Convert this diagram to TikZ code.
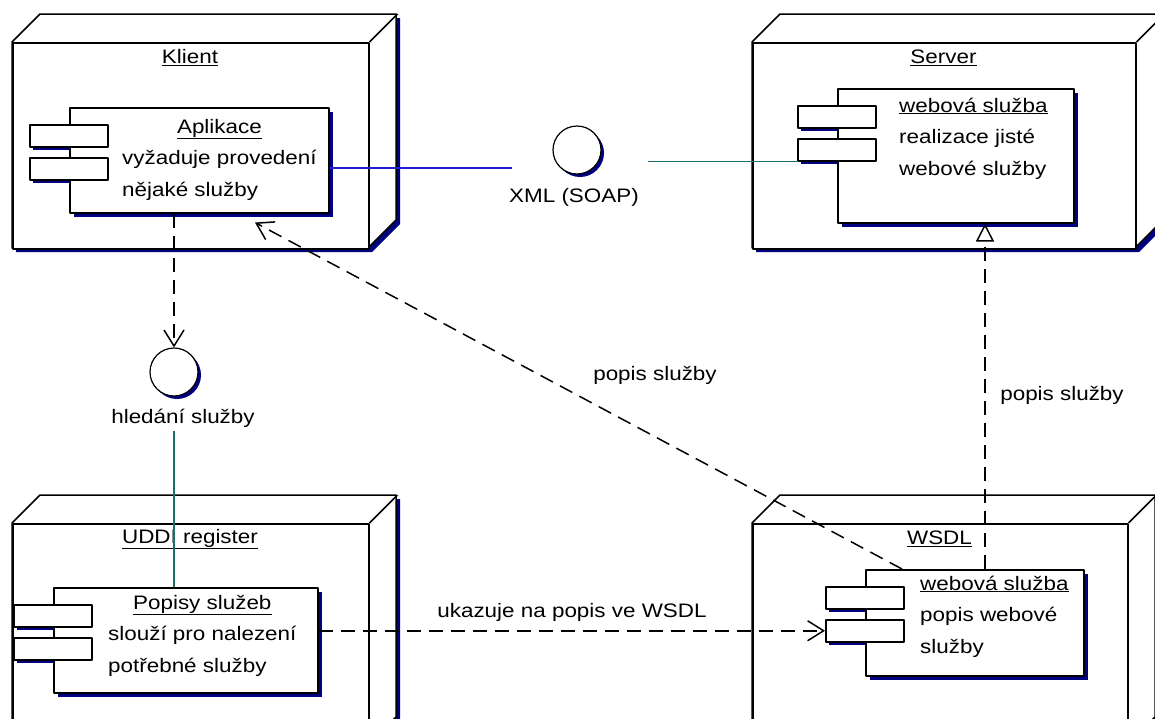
\documentclass[tikz,border=0pt]{standalone}
\usepackage{fontspec}
\setmainfont[FakeStretch=1.15]{Liberation Sans}
\usetikzlibrary{arrows.meta}
\definecolor{stin}{RGB}{0,0,128}
\definecolor{modra}{RGB}{30,30,210}
\definecolor{tyrkys}{RGB}{30,110,110}
% uzel nasazeni: jmeno, x1, y1, x2, y2, nazev
\newcommand{\umlnode}[6]{%
	\fill[stin] (#2+4,#3+4) -- (#2+32,#3-24) -- (#4+32,#3-24) -- (#4+32,#5-24) -- (#4+4,#5+4) -- (#2+4,#5+4) -- cycle;
	\filldraw[fill=white,line width=1.5pt] (#2,#3) -- (#2+28,#3-28) -- (#4+28,#3-28) -- (#4+28,#5-28) -- (#4,#5) -- (#2,#5) -- cycle;
	\node[face,minimum width={(#4-#2)*1pt},minimum height={(#5-#3)*1pt}] (#1) at (#2,#3) {};
	\draw[line width=1.5pt] (#1.north east) -- ++(28,-28);
	\node (#1t) at ({(#2+#4)/2},#3+16) {\underline{#6}};}
% komponenta: jmeno, x1, y1, x2, y2, pocatek textu, nazev, dva radky
\newcommand{\umlcomp}[9]{%
	\foreach \dy in {17,50} \fill[stin] (#2-36,#3+\dy+4) rectangle (#2+42,#3+\dy+26);
	\fill[stin] (#2+5,#3+5) rectangle (#4+5,#5+5);
	\node[comp,minimum width={(#4-#2)*1pt},minimum height={(#5-#3)*1pt}] (#1) at (#2,#3) {};
	\node[port] (#1a) at (#2-40,#3+17) {};
	\node[port] (#1b) at (#2-40,#3+50) {};
	\node[anchor=base west,inner sep=0pt] (#1t) at #6 {\begin{tabular}[t]{@{}l@{}}\multicolumn{1}{@{}c@{}}{\underline{#7}}\\ #8\\ #9\end{tabular}};}
\begin{document}
\begin{tikzpicture}[x=1pt,y=-1pt,line join=round,font=\fontsize{19.5}{31.5}\selectfont,
	face/.style={draw,fill=white,line width=1.5pt,anchor=north west,inner sep=0pt},
	comp/.style={draw,fill=white,line width=1.5pt,anchor=north west,inner sep=0pt},
	port/.style={draw,fill=white,line width=1.5pt,anchor=north west,inner sep=0pt,minimum width=78pt,minimum height=22pt},
	iface/.style={circle,draw,fill=white,line width=1.2pt,inner sep=0pt,minimum size=48pt},
	dep/.style={line width=1.5pt,dash pattern=on 14pt off 8pt,-{Straight Barb[length=16pt,width=20pt]}},
	real/.style={line width=1.5pt,dash pattern=on 14pt off 8pt,-{Triangle[open,fill=white,length=18pt,width=18pt]}}]
	\useasboundingbox (0,0) rectangle (1155,718);
	\clip (0,0) rectangle (1155,718);
	\umlnode{klient}{12}{42}{368}{248}{Klient}
	\umlnode{server}{752}{42}{1135}{248}{Server}
	\umlnode{uddi}{12}{523}{368}{745}{UDDI register}
	\umlnode{wsdl}{752}{523}{1127}{745}{WSDL}
	\umlcomp{aplikace}{69}{107}{328}{212}{(122,133)}{Aplikace}{vyžaduje provedení}{nějaké služby}
	\umlcomp{sluzba}{837}{88}{1073}{222}{(899,112)}{webová služba}{realizace jisté}{webové služby}
	\umlcomp{popisy}{53}{587}{317}{692}{(108,609)}{Popisy služeb}{slouží pro nalezení}{potřebné služby}
	\umlcomp{wsdlc}{865}{569}{1083}{675}{(920,590)}{webová služba}{popis webové}{služby}
	% rozhrani
	\fill[stin] (580,153) circle (24pt);
	\node[iface] (xml) at (577,150) {};
	\node (xmll) at (574,197) {XML (SOAP)};
	\fill[stin] (177,375) circle (24pt);
	\node[iface] (hledani) at (174,372) {};
	\node (hledl) at (183,418) {hledání služby};
	\coordinate (xmlL) at (512,168);
	\coordinate (xmlR) at (648,162);
	\coordinate (wtop) at ([xshift=120pt]wsdlc.north west);
	\draw[modra,line width=1.5pt] (aplikace.east |- xmlL) -- (xmlL);
	\draw[tyrkys,line width=1.5pt] (xmlR |- sluzbab.south west) -- (sluzbab.south west);
	\draw[tyrkys,line width=1.5pt] (hledani |- hledl.south) -- (hledani |- popisy.north);
	\draw[dep] (aplikace.south -| hledani.north) -- (hledani.north);
	\draw[dep] ([xshift=37pt]wsdlc.north west) -- ([xshift=186pt,yshift=-9pt]aplikace.south west);
	\draw[dep] (popisy.east |- wsdlcb.west) -- (wsdlcb.west);
	\draw[real] (wtop) -- (wtop |- sluzba.south);
	\node (popis1) at (655,375) {popis služby};
	\node (popis2) at (1062,395) {popis služby};
	\node (ukazuje) at (572,612) {ukazuje na popis ve WSDL};
\end{tikzpicture}
\end{document}
